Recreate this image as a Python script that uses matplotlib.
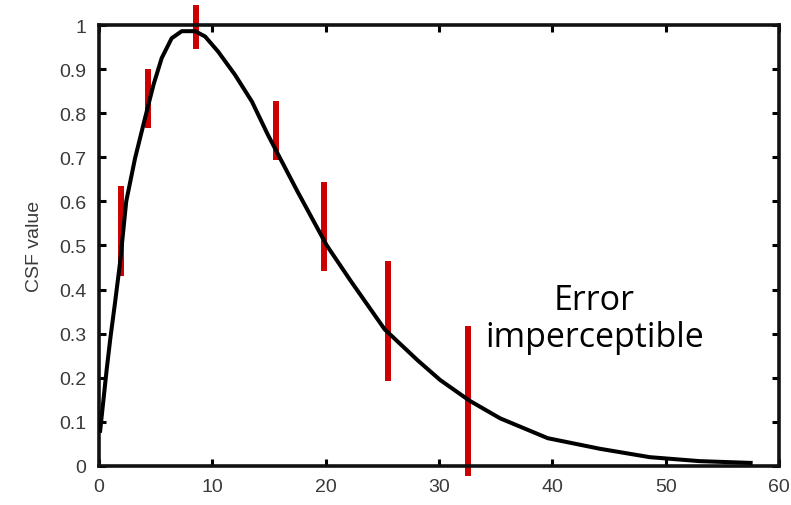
import numpy as np
import matplotlib
matplotlib.use('Agg')
import matplotlib.pyplot as plt
from matplotlib.ticker import FormatStrFormatter

# CSF curve
freq = [0.1, 0.24, 0.68, 1.0, 1.41, 1.85, 2.4, 3.18, 4.06, 4.8, 5.53, 6.41, 7.3,
        8.47, 9.36, 10.5, 12.0, 13.5, 14.9, 17.5, 20.1, 22.2, 25.2, 28.1, 30.1,
        32.7, 35.4, 39.6, 44.2, 48.6, 53.0, 57.5]
csf = [0.08, 0.114, 0.22, 0.29, 0.37, 0.46, 0.6, 0.698, 0.789, 0.864, 0.925,
       0.97, 0.986, 0.986, 0.974, 0.94, 0.887, 0.826, 0.751, 0.623, 0.5, 0.42,
       0.31, 0.24, 0.195, 0.148, 0.108, 0.063, 0.039, 0.02, 0.011, 0.007]

# error bars (x, low, high)
err_x = [1.94, 4.3, 8.56, 15.6, 19.86, 25.5, 32.6]
err_lo = [0.43, 0.766, 0.945, 0.693, 0.443, 0.193, -0.023]
err_hi = [0.634, 0.9, 1.045, 0.827, 0.645, 0.464, 0.318]

xticks = [0, 10, 20, 30, 40, 50, 60]
yticks = [0, 0.1, 0.2, 0.3, 0.4, 0.5, 0.6, 0.7, 0.8, 0.9, 1.0]

fig = plt.figure(figsize=(7.91, 5.06), dpi=100)
ax = fig.add_axes([0.1252, 0.0771, 0.8596, 0.8715])

ax.vlines(err_x, err_lo, err_hi, colors='#cc0000', linewidth=4.3, zorder=2, clip_on=False)
ax.plot(freq, csf, color='black', linewidth=2.9, zorder=3, solid_joinstyle='round')

ax.set_xlim(0, 60)
ax.set_ylim(0, 1)
ax.set_xticks(xticks)
ax.set_yticks(yticks)
ax.yaxis.set_major_formatter(FormatStrFormatter('%g'))

ax.tick_params(direction='in', length=5, width=2.2, top=True, right=True,
               labelsize=14, labelcolor='#3a3a3a', pad=9)
for lab in ax.get_xticklabels() + ax.get_yticklabels():
    lab.set_family('Liberation Sans')
for s in ax.spines.values():
    s.set_linewidth(2.6)
    s.set_color('#111111')

ax.set_ylabel('CSF value', fontsize=14, color='#3a3a3a', family='Liberation Sans', labelpad=12)

ax.text(43.7, 0.335, 'Error\nimperceptible', ha='center', va='center', fontsize=24.5,
        family='Open Sans', linespacing=1.1, color='black')

plt.savefig('out.png', dpi=100)
